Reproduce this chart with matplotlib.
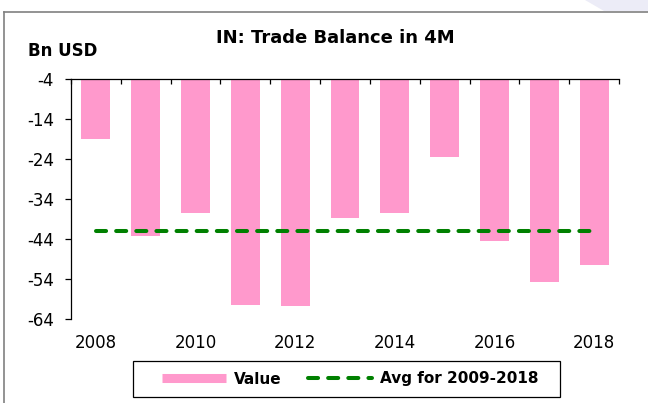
import matplotlib
matplotlib.use('Agg')
import matplotlib.pyplot as plt
from matplotlib.lines import Line2D
from matplotlib.patches import Polygon, Rectangle
import numpy as np

plt.rcParams['axes.unicode_minus'] = False

# data (Bn USD)
years = [2008, 2009, 2010, 2011, 2012, 2013, 2014, 2015, 2016, 2017, 2018]
values = [-19.1, -43.2, -37.4, -60.6, -60.7, -38.8, -37.4, -23.5, -44.4, -54.8, -50.6]
avg_2009_2018 = [-42.1] * len(years)
y_ticks = [-64, -54, -44, -34, -24, -14, -4]

pink = '#FF99CC'
green = '#008000'

W, H = 648, 403
fig = plt.figure(figsize=(W / 100, H / 100), dpi=100)
ax = fig.add_axes([71 / W, 1 - 319 / H, (619 - 71) / W, (319 - 79) / H])

x = np.arange(len(years))
ax.bar(x, values, width=0.58, color=pink, zorder=2)
ax.plot(x, avg_2009_2018, color=green, lw=2.9, dashes=(2.5, 2.5),
        dash_capstyle='round', zorder=3)

ax.set_xlim(-0.5, len(years) - 0.5)
ax.set_ylim(-64, -4)
ax.set_yticks(y_ticks)
ax.set_xticks(x[::2])
ax.set_xticklabels([str(y) for y in years[::2]])
ax.set_xticks(np.arange(-0.5, len(years), 1), minor=True)

ax.tick_params(axis='x', which='major', bottom=True, length=0, pad=11, labelsize=12)
ax.tick_params(axis='x', which='minor', top=True, bottom=False, direction='in',
               length=3.6, width=0.9)
ax.tick_params(axis='y', length=4.3, width=0.9, pad=8, labelsize=12)
for s in ['right', 'bottom']:
    ax.spines[s].set_visible(False)
for s in ['top', 'left']:
    ax.spines[s].set_linewidth(0.9)
    ax.spines[s].set_color('black')

fig.text(335.5 / W, 1 - 38 / H, 'IN: Trade Balance in 4M', ha='center', va='center',
         fontsize=13, fontweight='bold')
fig.text(28 / W, 1 - 51 / H, 'Bn USD', ha='left', va='center',
         fontsize=12, fontweight='bold')

handles = [Line2D([], [], color=pink, lw=6.5, solid_capstyle='butt'),
           Line2D([], [], color=green, lw=2.9, dashes=(2.5, 2.5), dash_capstyle='round')]
leg = fig.legend(handles, ['Value', 'Avg for 2009-2018'], loc='center',
                 bbox_to_anchor=(350 / W, 1 - 379 / H), ncol=2,
                 prop={'weight': 'bold', 'size': 11}, frameon=False,
                 handlelength=4.2, handletextpad=0.5,
                 columnspacing=1.75, borderpad=0.0)
# legend box drawn separately so the padding matches the original
fig.add_artist(Rectangle((133 / W, 1 - 397 / H), (560 - 133) / W, 36 / H,
                         transform=fig.transFigure, fill=False, edgecolor='black', lw=0.9))

# outer chart border and corner decoration
fig.add_artist(Polygon([(585 / W, 1), (1, 1), (1, 1 - 11 / H), (604 / W, 1 - 11 / H)],
                       closed=True, transform=fig.transFigure, color='#ECECF7', lw=0))
fig.add_artist(Line2D([4 / W, 4 / W], [0, 1 - 12 / H], color='#808080', lw=1.2,
                      transform=fig.transFigure))
fig.add_artist(Line2D([4 / W, 1], [1 - 12 / H, 1 - 12 / H], color='#808080', lw=1.2,
                      transform=fig.transFigure))

fig.savefig('out.png', dpi=100)
